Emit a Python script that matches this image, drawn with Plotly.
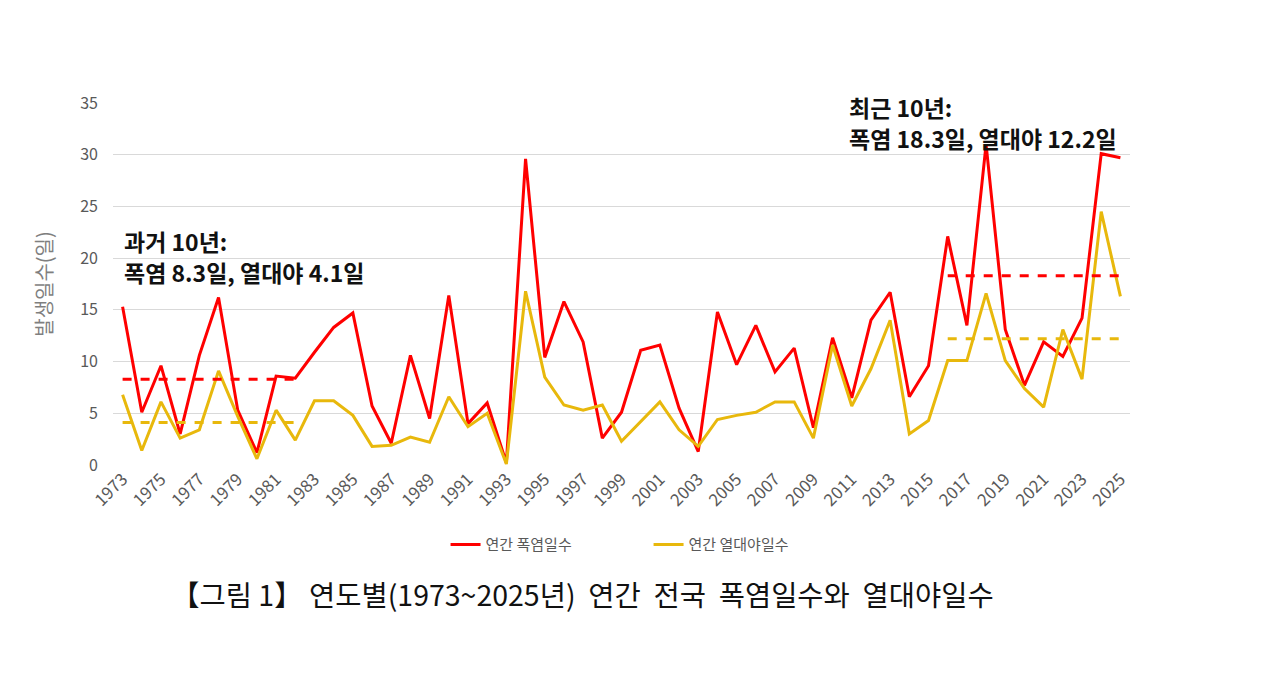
import plotly.graph_objects as go

years = list(range(1973, 2026))

heatwave_days = [15.3, 5.1, 9.6, 3.0, 10.6, 16.2, 5.3, 1.2, 8.6, 8.4,
                 10.9, 13.3, 14.7, 5.7, 2.1, 10.6, 4.5, 16.4, 4.0, 6.0,
                 0.2, 29.6, 10.4, 15.8, 11.9, 2.6, 5.1, 11.1, 11.6, 5.5,
                 1.3, 14.8, 9.7, 13.5, 9.0, 11.3, 3.6, 12.3, 6.5, 14.0,
                 16.7, 6.6, 9.6, 22.1, 13.5, 31.0, 13.1, 7.7, 11.9, 10.5,
                 14.2, 30.1, 29.7]

tropical_nights = [6.8, 1.4, 6.1, 2.6, 3.4, 9.1, 4.7, 0.6, 5.3, 2.4,
                   6.2, 6.2, 4.8, 1.8, 1.9, 2.7, 2.2, 6.6, 3.7, 5.0,
                   0.1, 16.8, 8.5, 5.8, 5.3, 5.8, 2.3, 4.2, 6.1, 3.4,
                   1.8, 4.4, 4.8, 5.1, 6.1, 6.1, 2.6, 11.6, 5.7, 9.3,
                   14.0, 3.0, 4.3, 10.1, 10.1, 16.6, 10.1, 7.4, 5.6, 13.1,
                   8.3, 24.5, 16.3]

past_years = list(range(1973, 1983))
recent_years = list(range(2016, 2026))
past_avg = {"heat": 8.3, "night": 4.1}
recent_avg = {"heat": 18.3, "night": 12.2}

series_names = ["연간 폭염일수", "연간 열대야일수"]
y_tick_vals = [0, 5, 10, 15, 20, 25, 30, 35]
x_tick_vals = list(range(1973, 2026, 2))

RED = "#FF0000"
GOLD = "#E8B80C"
FONT = "Noto Sans CJK KR"

fig = go.Figure()

fig.add_trace(go.Scatter(x=years, y=heatwave_days, mode="lines", name=series_names[0],
                         line=dict(color=RED, width=3)))
fig.add_trace(go.Scatter(x=years, y=tropical_nights, mode="lines", name=series_names[1],
                         line=dict(color=GOLD, width=3)))

fig.add_trace(go.Scatter(x=past_years, y=[past_avg["heat"]] * len(past_years), mode="lines",
                         showlegend=False, line=dict(color=RED, width=3, dash="dash")))
fig.add_trace(go.Scatter(x=past_years, y=[past_avg["night"]] * len(past_years), mode="lines",
                         showlegend=False, line=dict(color=GOLD, width=3, dash="dash")))
fig.add_trace(go.Scatter(x=recent_years, y=[recent_avg["heat"]] * len(recent_years), mode="lines",
                         showlegend=False, line=dict(color=RED, width=3, dash="dash")))
fig.add_trace(go.Scatter(x=recent_years, y=[recent_avg["night"]] * len(recent_years), mode="lines",
                         showlegend=False, line=dict(color=GOLD, width=3, dash="dash")))

ann_font = dict(family=FONT, size=23, color="#111111")
# past 10 years block (two lines)
fig.add_annotation(x=1973, y=0.619, xref="x", yref="paper", xanchor="left", yanchor="middle",
                   align="left", showarrow=False, borderpad=0, text="<b>과거 10년:</b>", font=ann_font)
fig.add_annotation(x=1973, y=0.533, xref="x", yref="paper", xanchor="left", yanchor="middle",
                   align="left", showarrow=False, borderpad=0,
                   text=f"<b>폭염 {past_avg['heat']}일, 열대야 {past_avg['night']}일</b>", font=ann_font)
# recent 10 years block (two lines)
fig.add_annotation(x=2010.8, y=0.989, xref="x", yref="paper", xanchor="left", yanchor="middle",
                   align="left", showarrow=False, borderpad=0, text="<b>최근 10년:</b>", font=ann_font)
fig.add_annotation(x=2010.8, y=0.903, xref="x", yref="paper", xanchor="left", yanchor="middle",
                   align="left", showarrow=False, borderpad=0,
                   text=f"<b>폭염 {recent_avg['heat']}일, 열대야 {recent_avg['night']}일</b>", font=ann_font)

fig.add_annotation(x=0.462, y=-0.354, xref="paper", yref="paper", xanchor="center", yanchor="middle",
                   showarrow=False,
                   text="【그림 1】 연도별(1973~2025년)  연간  전국  폭염일수와  열대야일수",
                   font=dict(family=FONT, size=28.5, color="#111111"))

fig.update_layout(
    width=1279, height=693,
    margin=dict(l=113, r=149, t=103, b=228),
    paper_bgcolor="white", plot_bgcolor="white",
    font=dict(family=FONT, color="#595959"),
    legend=dict(orientation="h", x=0.327, y=-0.22, xanchor="left", yanchor="middle",
                font=dict(size=15, color="#595959"), entrywidth=158, entrywidthmode="pixels"),
    xaxis=dict(range=[1972.5, 2025.5], tickmode="array", tickvals=x_tick_vals,
               tickangle=-45, showgrid=False, zeroline=False, showline=False,
               tickfont=dict(size=17, color="#595959"), ticks=""),
    yaxis=dict(range=[0, 35], tickmode="array", tickvals=y_tick_vals,
               showgrid=True, gridcolor="#D9D9D9", gridwidth=1, zeroline=False,
               tickfont=dict(size=16, color="#595959"), ticks="", ticklabelstandoff=14,
               title=dict(text="발생일수(일)", font=dict(size=20, color="#7F7F7F"), standoff=22)),
)

fig.write_html("out.html")
